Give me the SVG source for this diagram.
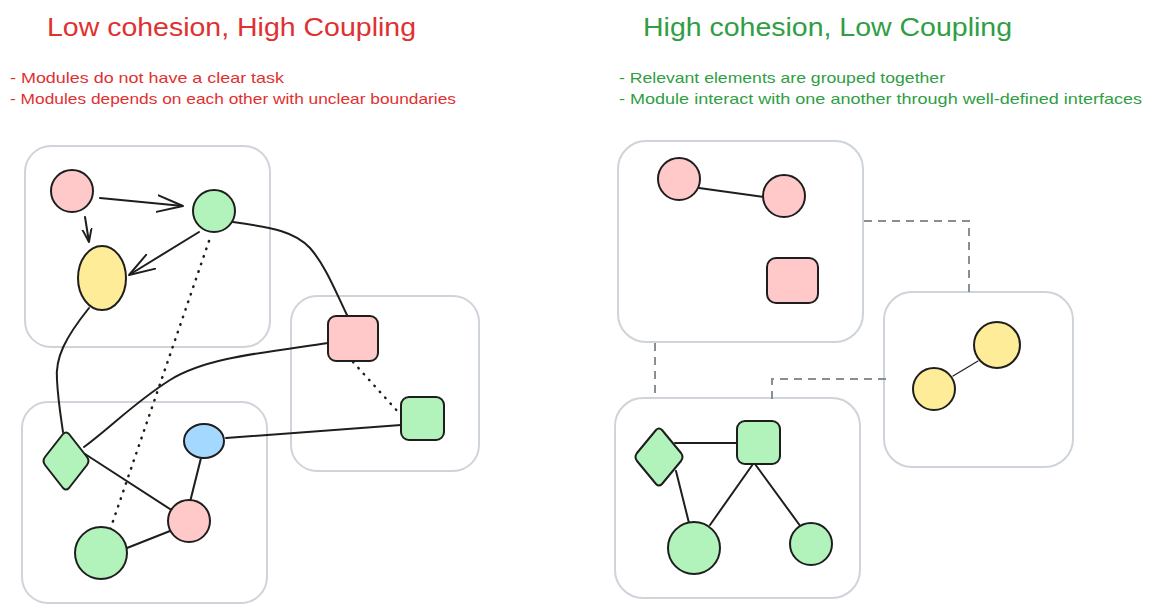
<svg xmlns="http://www.w3.org/2000/svg" width="1152" height="613" viewBox="0 0 1152 613">
<style>
.bg{fill:#ffffff}
.box{fill:none;stroke:#ced4da;stroke-width:2}
.n{stroke:#1e1e1e;stroke-width:2;stroke-linejoin:round}
.pink{fill:#ffc9c9}.green{fill:#b2f2bb}.yellow{fill:#ffec99}.blue{fill:#a5d8ff}
.c{fill:none;stroke:#1e1e1e;stroke-width:2;stroke-linecap:round}
.thin{fill:none;stroke:#1e1e1e;stroke-width:1.2;stroke-linecap:round}
.dot{fill:none;stroke:#1e1e1e;stroke-width:2.5;stroke-linecap:round;stroke-dasharray:0.5 7.5}
.dash{fill:none;stroke:#868e96;stroke-width:2;stroke-dasharray:8 6}
.title{font-family:"Liberation Sans","DejaVu Sans",sans-serif;font-size:26px}
.sub{font-family:"Liberation Sans","DejaVu Sans",sans-serif;font-size:15px}
.red{fill:#e03131}.grn{fill:#2f9e44}
</style>
<defs>
<marker id="arrowL" viewBox="0 0 20 20" refX="20" refY="10" markerWidth="26" markerHeight="26" markerUnits="userSpaceOnUse" orient="auto">
<path d="M0,3.5 L20,10 L0,16.5" fill="none" stroke="#1e1e1e" stroke-width="1.5" stroke-linecap="round" stroke-linejoin="round"/>
</marker>
<marker id="arrowS" viewBox="0 0 20 20" refX="20" refY="10" markerWidth="13" markerHeight="13" markerUnits="userSpaceOnUse" orient="auto">
<path d="M0,3 L20,10 L0,17" fill="none" stroke="#1e1e1e" stroke-width="3" stroke-linecap="round" stroke-linejoin="round"/>
</marker>
</defs>
<rect class="bg" x="0" y="0" width="1152" height="613"/>

<g id="texts">
<text class="title red" x="47" y="36" textLength="369" lengthAdjust="spacingAndGlyphs">Low cohesion, High Coupling</text>
<text class="sub red" x="10" y="83" textLength="274" lengthAdjust="spacingAndGlyphs">- Modules do not have a clear task</text>
<text class="sub red" x="10" y="104" textLength="446" lengthAdjust="spacingAndGlyphs">- Modules depends on each other with unclear boundaries</text>
<text class="title grn" x="643" y="36" textLength="369" lengthAdjust="spacingAndGlyphs">High cohesion, Low Coupling</text>
<text class="sub grn" x="619" y="83" textLength="326" lengthAdjust="spacingAndGlyphs">- Relevant elements are grouped together</text>
<text class="sub grn" x="619" y="104" textLength="523" lengthAdjust="spacingAndGlyphs">- Module interact with one another through well-defined interfaces</text>
</g>

<g id="modules">
<rect id="box-l1" class="box" x="25" y="146" width="245" height="201" rx="26"/>
<rect id="box-l2" class="box" x="291" y="296" width="188" height="175" rx="26"/>
<rect id="box-l3" class="box" x="22" y="402" width="245" height="201" rx="26"/>
<rect id="box-r1" class="box" x="618" y="141" width="245" height="201" rx="28"/>
<rect id="box-r2" class="box" x="884" y="292" width="189" height="175" rx="28"/>
<rect id="box-r3" class="box" x="615" y="398" width="245" height="200" rx="28"/>
</g>

<g id="connectors">
<line class="c" x1="100" y1="198" x2="183" y2="206" marker-end="url(#arrowL)"/>
<line class="c" x1="85" y1="217" x2="89" y2="242" marker-end="url(#arrowS)"/>
<line class="c" x1="199" y1="232" x2="129" y2="275" marker-end="url(#arrowL)"/>
<line class="dot" x1="209" y1="241" x2="110" y2="530"/>
<path class="c" d="M233,222 C275,228 295,232 310,248 C325,265 335,290 347,315"/>
<path class="c" d="M328,343 C260,353 205,358 170,380 C135,402 110,428 84,447"/>
<path class="c" d="M89,308 C65,338 55,358 57,380 C58,400 61,418 63,432"/>
<line class="dot" x1="353" y1="362" x2="399" y2="413"/>
<line class="c" x1="85" y1="454" x2="173" y2="511"/>
<line class="c" x1="201" y1="458" x2="190" y2="502"/>
<line class="c" x1="127" y1="548" x2="170" y2="531"/>
<line class="c" x1="226" y1="438" x2="401" y2="425"/>
<line class="c" x1="699" y1="188" x2="764" y2="197"/>
<line class="thin" x1="953" y1="376" x2="978" y2="361"/>
<line class="c" x1="675" y1="443" x2="737" y2="443"/>
<line class="c" x1="676" y1="471" x2="689" y2="523"/>
<line class="c" x1="753" y1="464" x2="710" y2="525"/>
<line class="c" x1="755" y1="464" x2="801" y2="527"/>
<path class="dash" d="M864,221 L969,221 L969,293"/>
<path class="dash" d="M655,343 L655,399"/>
<path class="dash" d="M772,399 L772,379 L886,379"/>
</g>

<g id="n-l-pink1"><circle class="n pink" cx="72" cy="191" r="21"/></g>
<g id="n-l-green1"><circle class="n green" cx="214" cy="211" r="21"/></g>
<g id="n-l-yellow"><ellipse class="n yellow" cx="102" cy="278" rx="24" ry="32"/></g>
<g id="n-l-pinksq"><rect class="n pink" x="328" y="316" width="50" height="45" rx="8"/></g>
<g id="n-l-greensq"><rect class="n green" x="401" y="397" width="43" height="43" rx="8"/></g>
<g id="n-l-diamond"><path class="n green" d="M63,434 Q66,431 69,434 L87,457 Q90,461 87,465 L69,488 Q66,491 63,488 L45,465 Q42,461 45,457 Z"/></g>
<g id="n-l-blue"><ellipse class="n blue" cx="204" cy="441" rx="20" ry="17"/></g>
<g id="n-l-pink2"><circle class="n pink" cx="189" cy="521" r="21"/></g>
<g id="n-l-green2"><circle class="n green" cx="101" cy="553" r="26"/></g>

<g id="n-r-pink1"><circle class="n pink" cx="679" cy="179" r="21"/></g>
<g id="n-r-pink2"><circle class="n pink" cx="784" cy="196" r="21"/></g>
<g id="n-r-pinksq"><rect class="n pink" x="767" y="258" width="51" height="45" rx="9"/></g>
<g id="n-r-yellow1"><circle class="n yellow" cx="997" cy="345" r="23"/></g>
<g id="n-r-yellow2"><circle class="n yellow" cx="934" cy="389" r="21"/></g>
<g id="n-r-diamond"><path class="n green" d="M656,430 Q659,427 662,430 L681,453 Q684,457 681,461 L662,484 Q659,487 656,484 L637,461 Q634,457 637,453 Z"/></g>
<g id="n-r-greensq"><rect class="n green" x="737" y="421" width="43" height="43" rx="8"/></g>
<g id="n-r-green1"><circle class="n green" cx="694" cy="548" r="26"/></g>
<g id="n-r-green2"><circle class="n green" cx="811" cy="544" r="21"/></g>
</svg>
